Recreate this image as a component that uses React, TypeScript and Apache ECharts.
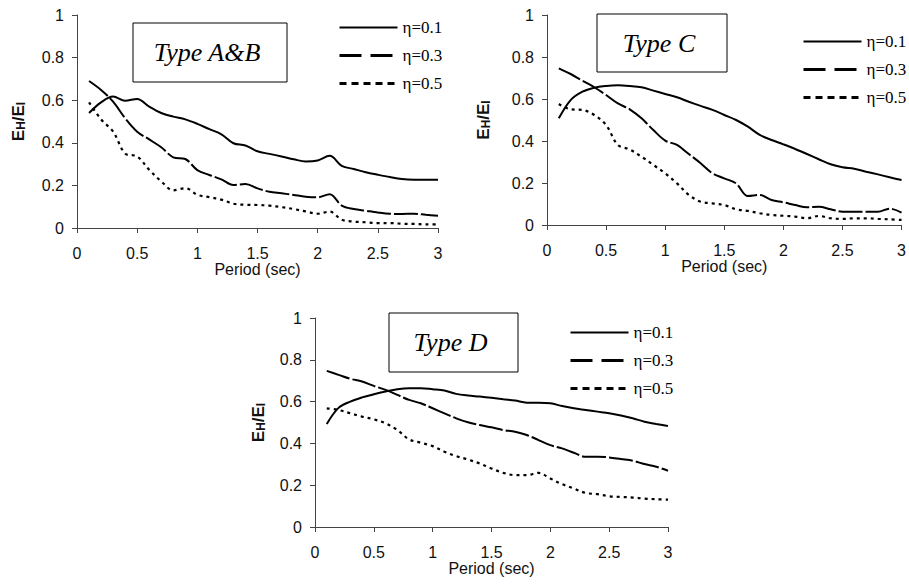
import React, { useEffect, useRef } from "react";
import * as echarts from "echarts";

const periods = [0.1, 0.2, 0.3, 0.4, 0.5, 0.6, 0.7, 0.8, 0.9, 1.0, 1.1, 1.2, 1.3, 1.4, 1.5, 1.6, 1.7, 1.8, 1.9, 2.0, 2.1, 2.2, 2.3, 2.4, 2.5, 2.6, 2.7, 2.8, 2.9, 3.0];

const seriesNames = ["η=0.1", "η=0.3", "η=0.5"];
const xTicks = [0, 0.5, 1, 1.5, 2, 2.5, 3];
const yTicks = [0, 0.2, 0.4, 0.6, 0.8, 1];
const chartTitles = ["Type A&B", "Type C", "Type D"];

// Type A&B
const ab_eta01 = [0.54, 0.59, 0.617, 0.598, 0.606, 0.57, 0.54, 0.523, 0.51, 0.489, 0.464, 0.44, 0.398, 0.387, 0.36, 0.348, 0.336, 0.323, 0.312, 0.317, 0.339, 0.292, 0.277, 0.262, 0.25, 0.239, 0.23, 0.227, 0.227, 0.227];
const ab_eta03 = [0.69, 0.648, 0.593, 0.515, 0.452, 0.416, 0.379, 0.332, 0.324, 0.272, 0.249, 0.228, 0.202, 0.207, 0.186, 0.17, 0.163, 0.155, 0.147, 0.144, 0.159, 0.105, 0.089, 0.081, 0.073, 0.067, 0.066, 0.067, 0.062, 0.058];
const ab_eta05 = [0.59, 0.51, 0.453, 0.35, 0.336, 0.273, 0.219, 0.177, 0.187, 0.156, 0.145, 0.133, 0.114, 0.109, 0.108, 0.105, 0.098, 0.089, 0.078, 0.067, 0.077, 0.039, 0.03, 0.027, 0.023, 0.023, 0.02, 0.019, 0.017, 0.017];

// Type C
const c_eta01 = [0.508, 0.595, 0.635, 0.654, 0.662, 0.665, 0.662, 0.656, 0.64, 0.624, 0.608, 0.587, 0.567, 0.548, 0.524, 0.5, 0.468, 0.429, 0.405, 0.384, 0.362, 0.338, 0.313, 0.289, 0.275, 0.268, 0.254, 0.241, 0.227, 0.214];
const c_eta03 = [0.746, 0.719, 0.687, 0.656, 0.619, 0.579, 0.551, 0.508, 0.452, 0.402, 0.381, 0.338, 0.294, 0.246, 0.222, 0.198, 0.138, 0.143, 0.119, 0.108, 0.095, 0.084, 0.087, 0.075, 0.063, 0.063, 0.063, 0.063, 0.078, 0.059];
const c_eta05 = [0.576, 0.551, 0.548, 0.524, 0.476, 0.381, 0.36, 0.325, 0.286, 0.246, 0.198, 0.143, 0.111, 0.103, 0.095, 0.075, 0.067, 0.056, 0.048, 0.044, 0.04, 0.032, 0.043, 0.032, 0.029, 0.032, 0.032, 0.029, 0.027, 0.024];

// Type D
const d_eta01 = [0.493, 0.57, 0.6, 0.62, 0.635, 0.648, 0.659, 0.664, 0.664, 0.659, 0.653, 0.637, 0.629, 0.624, 0.618, 0.611, 0.605, 0.595, 0.595, 0.592, 0.579, 0.568, 0.56, 0.552, 0.544, 0.533, 0.52, 0.504, 0.493, 0.483];
const d_eta03 = [0.747, 0.728, 0.709, 0.696, 0.675, 0.656, 0.632, 0.608, 0.592, 0.568, 0.544, 0.52, 0.501, 0.488, 0.477, 0.464, 0.456, 0.44, 0.416, 0.392, 0.376, 0.355, 0.336, 0.336, 0.333, 0.325, 0.317, 0.301, 0.288, 0.269];
const d_eta05 = [0.568, 0.56, 0.544, 0.528, 0.515, 0.496, 0.464, 0.419, 0.403, 0.387, 0.36, 0.339, 0.323, 0.304, 0.28, 0.259, 0.248, 0.248, 0.259, 0.232, 0.205, 0.184, 0.163, 0.157, 0.147, 0.144, 0.141, 0.136, 0.133, 0.131];

const chartValues = [
  [ab_eta01, ab_eta03, ab_eta05],
  [c_eta01, c_eta03, c_eta05],
  [d_eta01, d_eta03, d_eta05],
];

const SANS = "'Liberation Sans', Arial, sans-serif";
const SERIF = "'Liberation Serif', 'Times New Roman', serif";

const grids = [
  { left: 77, top: 15, width: 361, height: 213 },
  { left: 547, top: 15, width: 355, height: 210 },
  { left: 315, top: 318, width: 353, height: 209 },
];
const yNameGaps = [50, 55, 48];
const xNameGaps = [31, 31, 33];
const legendPos = [
  { left: 338, top: 19 },
  { left: 802, top: 33 },
  { left: 569, top: 324 },
];
const titleBoxes = [
  { x: 133, y: 23, w: 154, h: 59 },
  { x: 597, y: 14, w: 130, h: 58 },
  { x: 389, y: 313, w: 129, h: 59 },
];

const seriesLine = [
  { type: "solid", width: 2 },
  { type: [24, 3], width: 2 },
  { type: [3, 4], width: 2.2 },
];
const legendLine = [
  { type: "solid", width: 2 },
  { type: [22, 9], width: 3 },
  { type: [7, 5], width: 3 },
];

export default function App() {
  const ref = useRef<HTMLDivElement>(null);
  useEffect(() => {
    if (!ref.current) return;
    const chart = echarts.init(ref.current, undefined, { renderer: "svg" });
    const axisLine = { show: true, lineStyle: { color: "#444", width: 1 } };
    const axisTick = { show: true, length: 5, inside: false, lineStyle: { color: "#444", width: 1 } };

    const xAxis = grids.map((_, i) => ({
      type: "value",
      gridIndex: i,
      min: 0,
      max: 3,
      interval: 0.5,
      axisLine,
      axisTick,
      splitLine: { show: false },
      axisLabel: { fontFamily: SANS, fontSize: 16, color: "#111", margin: 17, formatter: (v: number) => (xTicks.includes(v) ? String(v) : "") },
      name: "Period (sec)",
      nameLocation: "middle",
      nameGap: xNameGaps[i],
      nameTextStyle: { fontFamily: SANS, fontSize: 16, color: "#111" },
    }));
    const yAxis = grids.map((_, i) => ({
      type: "value",
      gridIndex: i,
      min: 0,
      max: 1,
      interval: 0.2,
      axisLine,
      axisTick,
      splitLine: { show: false },
      axisLabel: { fontFamily: SANS, fontSize: 16, color: "#111", margin: 13, formatter: (v: number) => (yTicks.some((t) => Math.abs(t - v) < 1e-9) ? String(Math.round(v * 10) / 10) : "") },
      name: "{b|E}{s|H}{b|/E}{s|I}",
      nameLocation: "middle",
      nameRotate: 90,
      nameGap: yNameGaps[i],
      nameTextStyle: {
        rich: {
          b: { fontFamily: SANS, fontSize: 17, fontWeight: "bold", color: "#111", verticalAlign: "bottom", lineHeight: 20 },
          s: { fontFamily: SANS, fontSize: 12, fontWeight: "bold", color: "#111", verticalAlign: "bottom", lineHeight: 15 },
        },
      },
    }));

    const series: any[] = [];
    chartValues.forEach((vals, gi) => {
      vals.forEach((arr, si) => {
        series.push({
          type: "line",
          name: seriesNames[si],
          xAxisIndex: gi,
          yAxisIndex: gi,
          data: periods.map((p, k) => [p, arr[k]]),
          smooth: 0.35,
          symbol: "none",
          itemStyle: { color: "#000" },
          lineStyle: { color: "#000", ...seriesLine[si] },
          z: 3 - si,
        });
      });
    });

    const legendText = { fontFamily: "Liberation Serif", fontSize: 17, color: "#000" };
    const legend = legendPos.map((p) => ({
      orient: "vertical",
      left: p.left,
      top: p.top,
      padding: 0,
      itemWidth: 58,
      itemHeight: 14,
      itemGap: 11,
      selectedMode: false,
      textStyle: legendText,
      data: seriesNames.map((n, si) => ({
        name: n,
        textStyle: legendText,
        itemStyle: { opacity: 0 },
        lineStyle: { color: "#000", opacity: 1, ...legendLine[si] },
      })),
    }));

    const graphic = titleBoxes.map((b, i) => ({
      type: "group",
      children: [
        { type: "rect", shape: { x: b.x, y: b.y, width: b.w, height: b.h }, style: { fill: "#fff", stroke: "#000", lineWidth: 1 }, z: 10 },
        {
          type: "text",
          x: b.x + b.w / 2 - 3,
          y: b.y + b.h / 2,
          style: { text: chartTitles[i], font: `italic 26px ${SERIF}`, fill: "#000", textAlign: "center", textVerticalAlign: "middle" },
          z: 11,
        },
      ],
    }));

    chart.setOption({
      animation: false,
      backgroundColor: "#fff",
      grid: grids.map((g) => ({ ...g, containLabel: false })),
      xAxis,
      yAxis,
      series,
      legend,
      graphic,
    });
    return () => chart.dispose();
  }, []);
  return <div ref={ref} style={{ position: "fixed", left: 0, top: 0, width: 909, height: 584 }} />;
}
